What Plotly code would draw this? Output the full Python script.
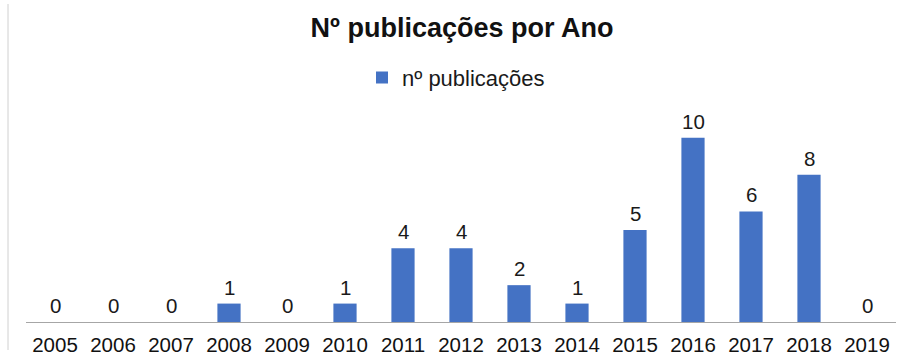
import plotly.graph_objects as go

anos = ["2005", "2006", "2007", "2008", "2009", "2010", "2011", "2012",
        "2013", "2014", "2015", "2016", "2017", "2018", "2019"]
publicacoes = [0, 0, 0, 1, 0, 1, 4, 4, 2, 1, 5, 10, 6, 8, 0]

W, H = 897, 357
ML, MR, MT, MB = 26, 1, 100, 28

fig = go.Figure()
fig.add_trace(go.Bar(
    x=anos, y=publicacoes, name="nº publicações",
    marker=dict(color="#4472C4", line=dict(width=0)),
    width=0.4,
))

# value labels above each bar (category index as x position)
for i, v in enumerate(publicacoes):
    fig.add_annotation(x=i, y=v, text=str(v), showarrow=False,
                       xref="x", yref="y",
                       yanchor="bottom", yshift=3,
                       font=dict(size=20.5, color="#1a1a1a"))

fig.update_layout(
    width=W, height=H,
    margin=dict(l=ML, r=MR, t=MT, b=MB),
    paper_bgcolor="white", plot_bgcolor="white",
    font=dict(family="Liberation Sans, Arial, sans-serif", color="#1a1a1a"),
    title=dict(text="<b>Nº publicações por Ano</b>", x=462 / W, xanchor="center",
               y=1 - 28 / H, yanchor="middle",
               font=dict(size=27, color="#111111")),
    showlegend=True,
    legend=dict(orientation="h", x=(456 - ML) / (W - ML - MR), xanchor="center",
                y=1 + (MT - 77) / (H - MT - MB), yanchor="middle",
                font=dict(size=22, color="#1a1a1a"), itemwidth=30),
    xaxis=dict(type="category", showgrid=False, showline=True, linecolor="#a6a6a6",
               linewidth=1, ticks="outside", ticklen=4, tickcolor="rgba(0,0,0,0)",
               tickfont=dict(size=20.5, color="#111111"),
               range=[-0.5, 14.5]),
    yaxis=dict(visible=False, range=[0, 229 / 19]),
    bargap=0.6,
)

# thin frame line on the left edge
fig.add_shape(type="line", xref="paper", yref="paper",
              xsizemode="pixel", ysizemode="pixel", xanchor=0, yanchor=0,
              x0=-18, x1=-18, y0=-28, y1=318,
              line=dict(color="#d0d0d0", width=1))

fig.write_html("out.html")
